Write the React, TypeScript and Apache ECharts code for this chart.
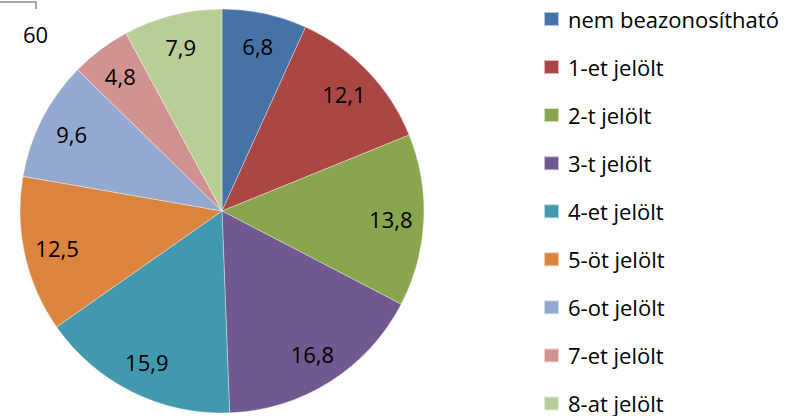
import React, { useEffect, useRef } from "react";
import * as echarts from "echarts";

const categories = [
  "nem beazonosítható",
  "1-et jelölt",
  "2-t jelölt",
  "3-t jelölt",
  "4-et jelölt",
  "5-öt jelölt",
  "6-ot jelölt",
  "7-et jelölt",
  "8-at jelölt",
];
const values = [6.8, 12.1, 13.8, 16.8, 15.9, 12.5, 9.6, 4.8, 7.9];
const colors = [
  "#4572A7",
  "#AA4643",
  "#89A54E",
  "#71588F",
  "#4198AF",
  "#DB843D",
  "#93A9CF",
  "#D19392",
  "#B9CD96",
];
const cornerText = "60";

const FONT = "'Open Sans', 'Noto Sans', sans-serif";

export default function App() {
  const ref = useRef<HTMLDivElement>(null);
  useEffect(() => {
    document.body.style.margin = "0";
    const chart = echarts.init(ref.current!, null, { renderer: "svg" });
    const data = categories.map((name, i) => ({
      name,
      value: values[i],
      itemStyle: { color: colors[i] },
    }));
    const labelData = categories.map((name, i) => ({ name, value: values[i] }));
    chart.setOption({
      animation: false,
      backgroundColor: "#ffffff",
      legend: {
        type: "plain",
        orient: "vertical",
        left: 543,
        top: 8,
        height: 408,
        padding: 0,
        itemWidth: 15,
        itemHeight: 14,
        itemGap: 26.06,
        icon: "rect",
        selectedMode: false,
        data: categories,
        textStyle: {
          fontFamily: FONT,
          fontSize: 22,
          color: "#000",
          padding: [0, 0, 0, 4],
        },
      },
      graphic: [
        {
          type: "polyline",
          shape: { points: [[0, 2], [36, 2], [36, 9]] },
          style: { stroke: "#888", lineWidth: 1.5, fill: "none" },
        },
        {
          type: "text",
          left: 23,
          top: 23,
          style: { text: cornerText, font: `22px ${FONT}`, fill: "#000" },
        },
      ],
      series: [
        {
          type: "pie",
          center: [222, 211],
          radius: [0, 202],
          startAngle: 90,
          clockwise: true,
          silent: true,
          avoidLabelOverlap: false,
          label: { show: false },
          labelLine: { show: false },
          itemStyle: { borderColor: "rgba(255,255,255,0.6)", borderWidth: 0.6 },
          emphasis: { disabled: true },
          data,
        },
        {
          type: "pie",
          center: [222, 211],
          radius: [130, 202],
          startAngle: 90,
          clockwise: true,
          silent: true,
          avoidLabelOverlap: false,
          itemStyle: { color: "rgba(0,0,0,0)", borderWidth: 0 },
          label: {
            show: true,
            position: "inside",
            fontFamily: FONT,
            fontSize: 22,
            color: "#000",
            formatter: (p: any) => String(p.value).replace(".", ","),
          },
          labelLine: { show: false },
          emphasis: { disabled: true },
          data: labelData,
        },
      ],
    });
    return () => chart.dispose();
  }, []);
  return (
    <div
      ref={ref}
      style={{ position: "fixed", left: 0, top: 0, width: 801, height: 416 }}
    />
  );
}
